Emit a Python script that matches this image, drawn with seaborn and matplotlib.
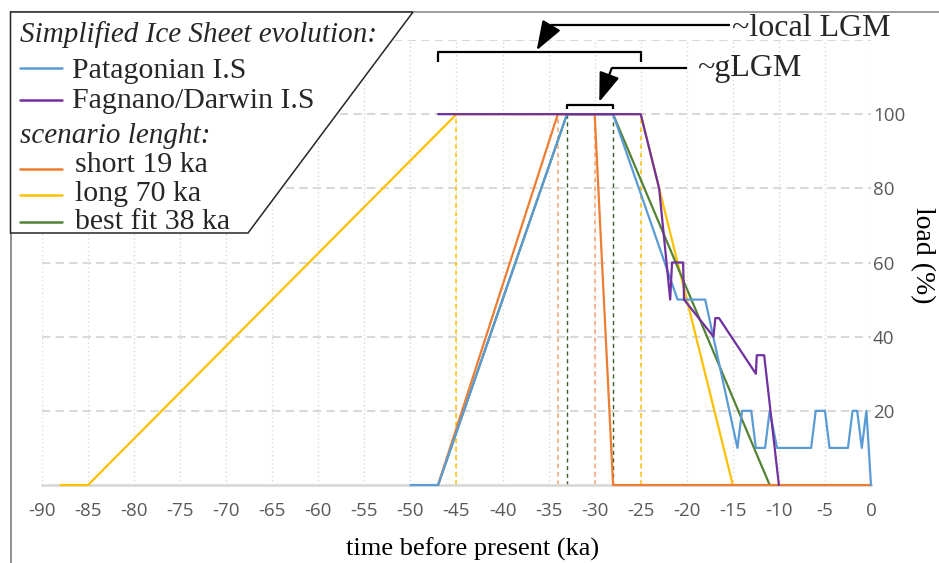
import numpy as np
import pandas as pd
import seaborn as sns
import matplotlib.pyplot as plt
from matplotlib.lines import Line2D
from matplotlib.patches import Polygon
from matplotlib.ticker import MultipleLocator

# ice sheet load curves, time in ka before present, load in %
patagonian_t = [-50, -47, -33, -28, -21, -18, -14.5, -14, -13, -12.5, -11.5, -11, -10.2,
                -6.5, -6, -5, -4.5, -2.5, -2, -1.5, -1, -0.5, 0]
patagonian_load = [0, 0, 100, 100, 50, 50, 10, 20, 20, 10, 10, 20, 10,
                   10, 20, 20, 10, 10, 20, 20, 10, 20, 0]

fagnano_t = [-47, -25, -23, -21.8, -21.6, -20.4, -20.3, -17.1, -16.9, -16.5, -12.5, -12.4, -11.6, -10]
fagnano_load = [100, 100, 80, 50, 60, 60, 50, 40, 45, 45, 30, 35, 35, 0]

short_t = [-47, -34, -30, -28, 0]
short_load = [0, 100, 100, 0, 0]

long_t = [-88, -85, -45, -25, -15]
long_load = [0, 0, 100, 100, 0]

best_t = [-47, -33, -28, -11]
best_load = [0, 100, 100, 0]

# plateau limits of each scenario (dashed markers)
long_marks = [-45, -25]
short_marks = [-34, -30]
best_marks = [-33, -28]

local_lgm = [-47, -25]
g_lgm = [-33, -28]

x_ticks = list(range(-90, 1, 5))
y_ticks = [20, 40, 60, 80, 100, 120]
y_ticklabels = ["20", "40", "60", "80", "100", ""]

c_blue = "#5B9BD5"
c_purple = "#7030A0"
c_orange = "#ED7D31"
c_yellow = "#FFC000"
c_green = "#548235"

W, H = 939, 563


def fx(px):
    return px / W


def fy(py):
    return 1 - py / H


sns.set_style("white")
plt.rcParams["font.family"] = ["Open Sans", "DejaVu Sans"]
serif = ["Liberation Serif", "DejaVu Serif"]

fig = plt.figure(figsize=(W / 100, H / 100), dpi=100)
ax = fig.add_axes([fx(42), fy(485), 829 / W, 445 / H])

series = [
    (long_t, long_load, c_yellow),
    (best_t, best_load, c_green),
    (short_t, short_load, c_orange),
    (patagonian_t, patagonian_load, c_blue),
    (fagnano_t, fagnano_load, c_purple),
]
for k, (t, load, col) in enumerate(series):
    df = pd.DataFrame({"t": t, "load": load})
    sns.lineplot(data=df, x="t", y="load", color=col, lw=1.6, sort=False,
                 estimator=None, ax=ax, zorder=3 + k * 0.1, clip_on=False)

ax.vlines(long_marks, 0, 100, colors="#FFC000", linestyles=(0, (3, 2.5)), lw=1.1, zorder=2)
ax.vlines(short_marks, 0, 100, colors="#F4A270", linestyles=(0, (3, 2.5)), lw=1.1, zorder=2)
ax.vlines(best_marks, 0, 100, colors="#3B5E27", linestyles=(0, (3, 2.5)), lw=1.0, zorder=2)

ax.set_xlim(-90, 0)
ax.set_ylim(0, 120)
ax.set_xticks(x_ticks)
ax.set_xticklabels([str(v) for v in x_ticks])
ax.xaxis.set_minor_locator(MultipleLocator(1))
ax.set_yticks(y_ticks)
ax.set_yticklabels(y_ticklabels)
ax.yaxis.tick_right()

for s in ["top", "left", "right"]:
    ax.spines[s].set_visible(False)
ax.spines["bottom"].set_color("#d9d9d9")
ax.spines["bottom"].set_linewidth(2)

ax.tick_params(axis="x", which="major", direction="inout", length=9, width=1.5,
               color="#d9d9d9", labelsize=13.5, labelcolor="#595959", pad=8)
ax.tick_params(axis="x", which="minor", direction="in", length=3.6, width=1.3, color="#d9d9d9")
ax.tick_params(axis="y", length=0, pad=1.5, labelsize=13.5, labelcolor="#595959")

ax.set_axisbelow(True)
ax.grid(axis="x", which="major", color="#d9d9d9", ls=(0, (1, 2)), lw=1)
ax.grid(axis="y", which="major", color="#d9d9d9", ls=(0, (4, 2.5)), lw=1.5)

ax.set_xlabel("time before present (ka)", family=serif, fontsize=19, color="black")
ax.xaxis.set_label_coords((473 - 42) / 829, (485 - 538) / 445)
ax.yaxis.set_label_position("right")
ax.set_ylabel("load (%)", family=serif, fontsize=20, rotation=-90, color="black", va="center")
ax.yaxis.set_label_coords((922 - 42) / 829, (485 - 255) / 445)

# brackets and arrows
kw = dict(color="black", lw=1.6, clip_on=False, solid_capstyle="butt")
ax.plot([local_lgm[0], local_lgm[0], local_lgm[1], local_lgm[1]], [114, 116.7, 116.7, 114], **kw)
ax.plot([g_lgm[0], g_lgm[0], g_lgm[1], g_lgm[1]], [101.3, 102.6, 102.6, 101.3], **kw)
arrow = dict(arrowstyle="-|>,head_length=0.9,head_width=0.32", color="black", lw=1.6,
             mutation_scale=20, shrinkA=0, shrinkB=0)
ax.plot([-15.3, -34.66], [124.1, 124.1], **kw)
ax.annotate("", xy=(-36.3, 117.2), xytext=(-34.66, 124.1), arrowprops=arrow, annotation_clip=False)
ax.text(-15.1, 123.0, "~local LGM", family=serif, fontsize=23, va="center", ha="left")
ax.plot([-20.0, -28.15], [112.4, 112.4], **kw)
ax.annotate("", xy=(-29.5, 103.3), xytext=(-28.15, 112.4), arrowprops=arrow, annotation_clip=False)
ax.text(-18.9, 112.2, "~gLGM", family=serif, fontsize=23, va="center", ha="left")

# outer frame
fig.add_artist(Line2D([fx(10.5), fx(10.5)], [0, fy(12)], color="#7f7f7f", lw=1.2))
fig.add_artist(Line2D([fx(10.5), 1], [fy(12), fy(12)], color="#8c8c8c", lw=1.2))

# legend box
box = Polygon([(fx(10.5), fy(12)), (fx(413), fy(12)), (fx(248), fy(233)), (fx(10.5), fy(233))],
              closed=True, facecolor="white", edgecolor="#262626", lw=1.1,
              transform=fig.transFigure, zorder=10)
fig.add_artist(box)

fig.text(fx(20), fy(42), "Simplified Ice Sheet evolution:", family=serif, style="italic",
         fontsize=21, va="baseline", zorder=11)
fig.text(fx(20), fy(143), "scenario lenght:", family=serif, style="italic",
         fontsize=21, va="baseline", zorder=11)
entries = [
    ("Patagonian I.S", c_blue, 68, 78, 72),
    ("Fagnano/Darwin I.S", c_purple, 100, 108, 72),
    ("short 19 ka", c_orange, 169, 172, 75),
    ("long 70 ka", c_yellow, 195, 201, 75),
    ("best fit 38 ka", c_green, 222, 229, 75),
]
for label, col, ly, ty, tx in entries:
    fig.add_artist(Line2D([fx(20), fx(62)], [fy(ly), fy(ly)], color=col, lw=1.8, zorder=11))
    fig.text(fx(tx), fy(ty), label, family=serif, fontsize=21.5, va="baseline", zorder=11)

fig.savefig("out.png", dpi=100)
